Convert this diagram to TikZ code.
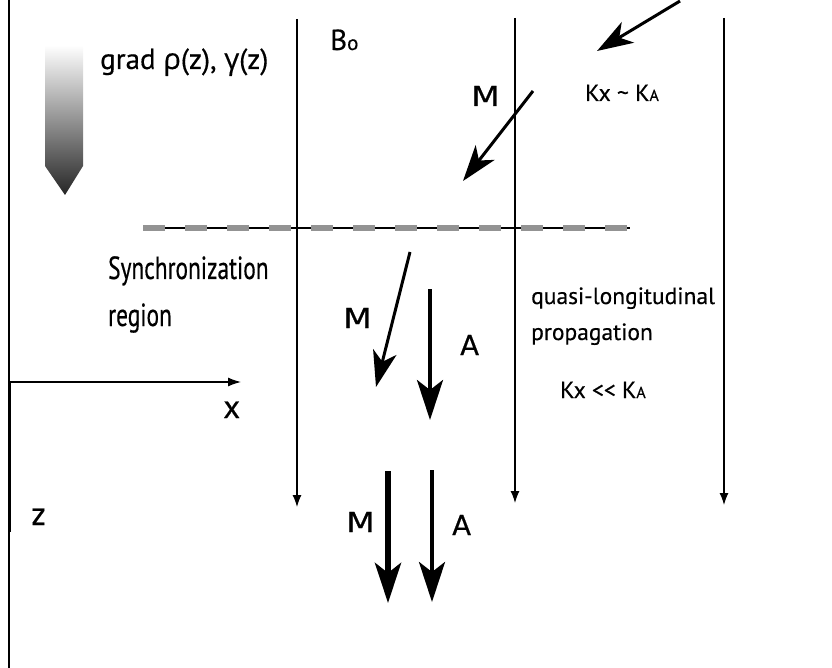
\documentclass[tikz,border=0pt]{standalone}
\usepackage{fontspec}
\setmainfont[FakeBold=0.4]{PT Sans}
\newfontfamily\cond[FakeStretch=0.73,FakeBold=0.4]{PT Sans}
\newfontfamily\grk[FakeBold=0.4]{Open Sans}
\newfontfamily\wide[FakeBold=0.6]{DejaVu Sans}
\usetikzlibrary{arrows.meta}
\tikzset{
  lbl/.style={anchor=base west, inner sep=0pt, font=\fontsize{23.5}{27}\selectfont},
  condlbl/.style={anchor=base west, inner sep=0pt, font=\cond\fontsize{32}{34}\selectfont},
  big/.style={anchor=base west, inner sep=0pt, font=\wide\fontsize{27.5}{30}\selectfont},
  axl/.style={anchor=base west, inner sep=0pt, font=\fontsize{33}{35}\selectfont},
  field/.style={line width=1.2pt, -{Latex[length=12pt,width=9pt]}},
  bigarrow/.style={line width=4pt, -{Stealth[length=40pt,width=26pt,inset=10pt]}},
  slantarrow/.style={line width=3pt, -{Stealth[length=36pt,width=24pt,inset=10pt]}},
}
\newcommand{\wideM}{\scalebox{1.2}[1]{M}}
\begin{document}
\begin{tikzpicture}[x=1pt,y=-1pt]
\useasboundingbox (0,0) rectangle (832,668);
% frame line and axes
\coordinate (L0) at (9,0);
\coordinate (L1) at (9,668);
\draw[line width=1.3pt] (L0) -- (L1);
\coordinate (z0) at (9,382);
\coordinate (z1) at (9,532);
\draw[line width=3pt] (z0) -- (z1);
\coordinate (xe) at (241,382);
\draw[line width=1.2pt, -{Latex[length=13pt,width=9pt]}] (z0) -- (xe);
\node[axl] (xl) at (223,418) {x};
\node[axl] (zl) at (31,525) {z};
% gradient arrow
\shade[top color=white, bottom color=black!85]
  (45,45) -- (83,45) -- (83,166) -- (65,195) -- (45,166) -- cycle;
\node[lbl, font=\fontsize{29}{32}\selectfont] (grad) at (100,69) {grad {\grk ρ}(z), {\grk γ}(z)};
% field lines
\coordinate (f1s) at (297,19); \coordinate (f1e) at (297,507);
\coordinate (f2s) at (515,18); \coordinate (f2e) at (515,503);
\coordinate (f3s) at (724,18); \coordinate (f3e) at (724,505);
\draw[field] (f1s) -- (f1e);
\draw[field] (f2s) -- (f2e);
\draw[field] (f3s) -- (f3e);
\node[lbl, font=\fontsize{29}{32}\selectfont] (B0) at (330,50) {B{\fontsize{21}{22}\selectfont o}};
% dashed synchronization line
\coordinate (d0) at (143,228);
\coordinate (d1) at (630,228);
\draw[line width=1.2pt] (d0) -- (d1);
\draw[line width=6pt, gray!85, dash pattern=on 22pt off 20pt] (d0) -- (d1);
% top arrows
\coordinate (k0) at (680,1); \coordinate (k1) at (597,51);
\draw[slantarrow] (k0) -- (k1);
\coordinate (m0) at (533,91); \coordinate (m1) at (463,181);
\draw[slantarrow] (m0) -- (m1);
\node[big] (Mtop) at (471,106) {\wideM};
\node[lbl] (kk1) at (585,101) {Kx \textasciitilde{} K{\fontsize{16}{17}\selectfont A}};
% labels
\node[condlbl] (sync) at (108,279) {Synchronization};
\node[condlbl] (reg) at (108,326) {region};
\node[lbl] (qlp) at (531,304) {quasi-longitudinal};
\node[lbl] (prop) at (531,340) {propagation};
\node[lbl] (kk2) at (560,398) {Kx {\textless}{\textless} K{\fontsize{16}{17}\selectfont A}};
% middle arrows
\coordinate (mm0) at (410,252); \coordinate (mm1) at (376,387);
\draw[slantarrow] (mm0) -- (mm1);
\coordinate (ma0) at (430,289); \coordinate (ma1) at (430,420);
\draw[bigarrow] (ma0) -- (ma1);
\node[big] (Mmid) at (343,328) {\wideM};
\node[big] (Amid) at (460,355) {A};
% bottom arrows
\coordinate (bm0) at (388,471); \coordinate (bm1) at (388,603);
\draw[bigarrow, line width=6pt] (bm0) -- (bm1);
\coordinate (ba0) at (432,470); \coordinate (ba1) at (432,602);
\draw[bigarrow] (ba0) -- (ba1);
\node[big] (Mbot) at (346,532) {\wideM};
\node[big] (Abot) at (452,535) {A};
\end{tikzpicture}
\end{document}
